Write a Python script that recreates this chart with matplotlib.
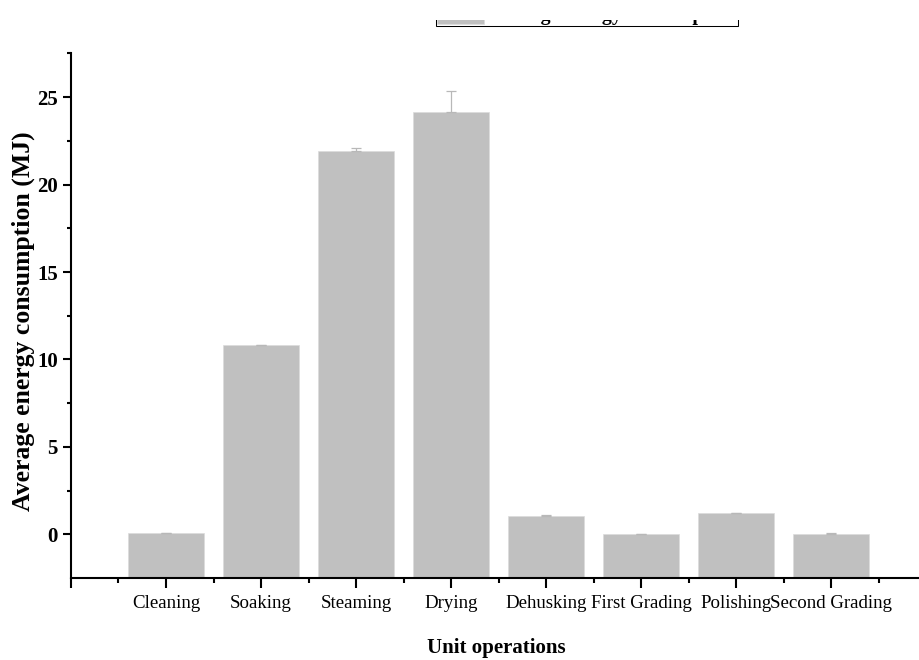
import numpy as np
import matplotlib
matplotlib.use("Agg")
import matplotlib.pyplot as plt
from matplotlib.patches import Rectangle

plt.rcParams['font.family'] = ['Liberation Serif', 'DejaVu Serif']

# data
categories = ["Cleaning", "Soaking", "Steaming", "Drying", "Dehusking",
              "First Grading", "Polishing", "Second Grading"]
energy = [0.06, 10.8, 21.95, 24.18, 1.05, 0.02, 1.19, 0.04]
energy_err = [0.02, 0.03, 0.14, 1.2, 0.03, 0.01, 0.02, 0.03]
series_name = "Average energy consumption"

ymin, ymax = -2.5, 27.5
bar_color = "#c0c0c0"

fig = plt.figure(figsize=(9.2, 6.6), dpi=100)
W, H = 920, 660
ax = fig.add_axes([71 / W, 82 / H, 855 / W, 524.5 / H])

x = np.arange(1, len(categories) + 1)
vals = np.array(energy)
ax.bar(x, vals - ymin, bottom=ymin, width=0.81, color=bar_color,
       edgecolor="#dcdcdc", linewidth=0.5, label=series_name, zorder=2)
ax.errorbar(x, vals, yerr=[np.zeros(len(vals)), energy_err], fmt="none",
            ecolor="#b8b8b8", elinewidth=0.9, capsize=3.6, capthick=0.9, zorder=3)

ax.set_xlim(0, 9)
ax.set_ylim(ymin, ymax)

ax.set_xticks(np.arange(0, 9))
ax.set_xticklabels([""] + categories, fontsize=13.6)
ax.set_xticks(np.arange(0.5, 9, 1), minor=True)
ax.set_yticks(np.arange(0, 26, 5))
ax.set_yticklabels([str(v) for v in range(0, 26, 5)], fontsize=15, fontweight="bold")
ax.set_yticks(np.arange(2.5, 28, 5), minor=True)

ax.tick_params(axis="x", which="major", direction="out", length=7.5, width=1.5, pad=4.6)
ax.tick_params(axis="x", which="minor", direction="out", length=3.8, width=1.5)
ax.tick_params(axis="y", which="major", direction="out", length=6, width=1.5, pad=3.6)
ax.tick_params(axis="y", which="minor", direction="out", length=3, width=1.5)

for s in ["top", "right"]:
    ax.spines[s].set_visible(False)
for s in ["left", "bottom"]:
    ax.spines[s].set_linewidth(1.5)

ax.set_xlabel("Unit operations", fontsize=15, fontweight="bold")
ax.xaxis.set_label_coords(0.498, -(638 - 578) / 524.5)
ax.set_ylabel("Average energy consumption (MJ)", fontsize=18.5, fontweight="bold")
ax.yaxis.set_label_coords(-(71 - 35) / 855, 0.49)

leg = ax.legend(loc="lower left", bbox_to_anchor=(436 / W, 1 - 26 / H),
                bbox_transform=fig.transFigure, borderaxespad=0,
                prop={"size": 14.4, "weight": "bold"}, handlelength=2.35,
                handleheight=1.3, handletextpad=0.3, borderpad=0.06,
                fancybox=False, framealpha=1, edgecolor="black")
leg.get_frame().set_linewidth(0.75)

# top strip of the legend is cut off in the original
fig.add_artist(Rectangle((0, 1 - 20 / H), 1, 20 / H, transform=fig.transFigure,
                         facecolor="white", edgecolor="none", zorder=10))

fig.savefig("out.png", dpi=100)
